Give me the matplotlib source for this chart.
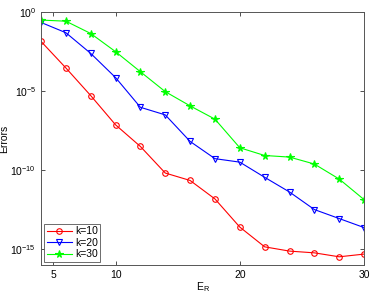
import numpy as np
import matplotlib.pyplot as plt

plt.rcParams['font.family'] = ['Liberation Sans', 'DejaVu Sans']

# E_R values and log10 of the errors
er = [4, 6, 8, 10, 12, 14, 16, 18, 20, 22, 24, 26, 28, 30]
log_k10 = [-1.85, -3.53, -5.28, -7.13, -8.5, -10.18, -10.65, -11.82, -13.6, -14.85, -15.12, -15.23, -15.48, -15.31]
log_k20 = [-0.65, -1.3, -2.61, -4.14, -6.02, -6.5, -8.18, -9.27, -9.49, -10.45, -11.38, -12.49, -13.06, -13.63]
log_k30 = [-0.5, -0.57, -1.35, -2.5, -3.77, -5.03, -5.93, -6.77, -8.58, -9.07, -9.17, -9.61, -10.56, -11.86]

fig = plt.figure(figsize=(3.73, 2.94), dpi=100)
ax = fig.add_axes([0.110, 0.0986, 0.866, 0.860])

ax.semilogy(er, 10.0**np.array(log_k10), '-o', color='#ff0000', mfc='none', ms=4, lw=0.8, mew=0.8, label='k=10')
ax.semilogy(er, 10.0**np.array(log_k20), '-v', color='#0000ff', mfc='none', ms=4.5, lw=0.8, mew=0.8, label='k=20')
ax.semilogy(er, 10.0**np.array(log_k30), '-*', color='#00ff00', ms=5.5, lw=0.8, mew=0.8, label='k=30')

ax.set_xlim(4, 30)
ax.set_ylim(1e-16, 1)
ax.set_xticks([5, 10, 20, 30])
ax.set_yticks([1e0, 1e-5, 1e-10, 1e-15])
ax.minorticks_off()
ax.tick_params(direction='in', length=3, width=0.6, labelsize=7.5, top=True, right=True, colors='#333333', labelcolor='black')
for spine in ax.spines.values():
    spine.set_linewidth(0.7)
    spine.set_color('#555555')

ax.set_xlabel('E$_\\mathregular{R}$', fontsize=7.5, labelpad=0)
ax.set_ylabel('Errors', fontsize=7.5, labelpad=1)

leg = ax.legend(loc='lower left', fontsize=7.5, fancybox=False, framealpha=1, edgecolor='#555555',
                handlelength=2.4, handletextpad=0.3, labelspacing=0.15, borderpad=0.25, borderaxespad=0.3)
leg.get_frame().set_linewidth(0.6)

fig.savefig('out.png', dpi=100)
